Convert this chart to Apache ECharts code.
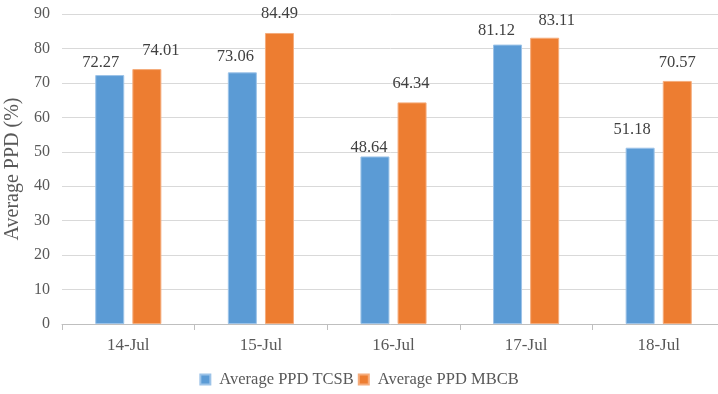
<!DOCTYPE html>
<html><head><meta charset="utf-8">
<script src="https://cdn.jsdelivr.net/npm/echarts@6/dist/echarts.min.js"></script>
<style>html,body{margin:0;padding:0;background:#fff}#c{width:718px;height:394px}</style>
</head><body><div id="c"></div>
<script>
const categories = ['14-Jul','15-Jul','16-Jul','17-Jul','18-Jul'];
const tcsb = [72.27, 73.06, 48.64, 81.12, 51.18];
const mbcb = [74.01, 84.49, 64.34, 83.11, 70.57];
const seriesNames = ['Average PPD TCSB','Average PPD MBCB'];
const font = 'Liberation Serif';

// label nudges (styling only), as in the original figure
const tcsbLabelNudge = [[-9,1],[-7,-2],[-6,5],[-11,0],[-8,-5]];
const mbcbLabelNudge = [[14,-5],[0,-6],[-1,-5],[12,-4],[0,-5]];
const withNudge = (vals, nudges) => vals.map((v,i) => ({value:v, label:{offset:nudges[i]}}));

const chart = echarts.init(document.getElementById('c'), null, {renderer:'canvas'});
const lbl = {show:true, position:'top', distance:5, color:'#404040', fontFamily:font, fontSize:16.5,
  formatter: p => Number(p.value).toFixed(2)};
chart.setOption({
  animation:false,
  textStyle:{fontFamily:font},
  grid:{left:62, right:-7, top:14, bottom:70, outerBoundsMode:'none', containLabel:false},
  legend:{bottom:1, left:'center', itemWidth:10, itemHeight:10, itemGap:4,
    textStyle:{color:'#595959', fontFamily:font, fontSize:16.5, padding:[0,0,0,4]}, icon:'rect',
    data:seriesNames},
  xAxis:{type:'category', data:categories,
    axisLine:{lineStyle:{color:'#bfbfbf', width:1}},
    axisTick:{show:true, length:6, lineStyle:{color:'#bfbfbf'}},
    axisLabel:{color:'#595959', fontFamily:font, fontSize:17, margin:13}},
  yAxis:{type:'value', min:0, max:90, interval:10,
    name:'Average PPD (%)', nameLocation:'middle', nameGap:33, nameRotate:90,
    nameTextStyle:{color:'#595959', fontFamily:font, fontSize:20},
    axisLine:{show:false}, axisTick:{show:false},
    splitLine:{lineStyle:{color:'#d9d9d9', width:1}},
    axisLabel:{color:'#595959', fontFamily:font, fontSize:16, margin:12}},
  series:[
    {name:seriesNames[0], type:'bar', data:withNudge(tcsb, tcsbLabelNudge), barWidth:29, barGap:'28%',
     itemStyle:{color:'#5B9BD5', borderColor:'#9cc3e8', borderWidth:1}, label:lbl},
    {name:seriesNames[1], type:'bar', data:withNudge(mbcb, mbcbLabelNudge), barWidth:29,
     itemStyle:{color:'#ED7D31', borderColor:'#f5ac7c', borderWidth:1}, label:lbl}
  ]
});
</script></body></html>
